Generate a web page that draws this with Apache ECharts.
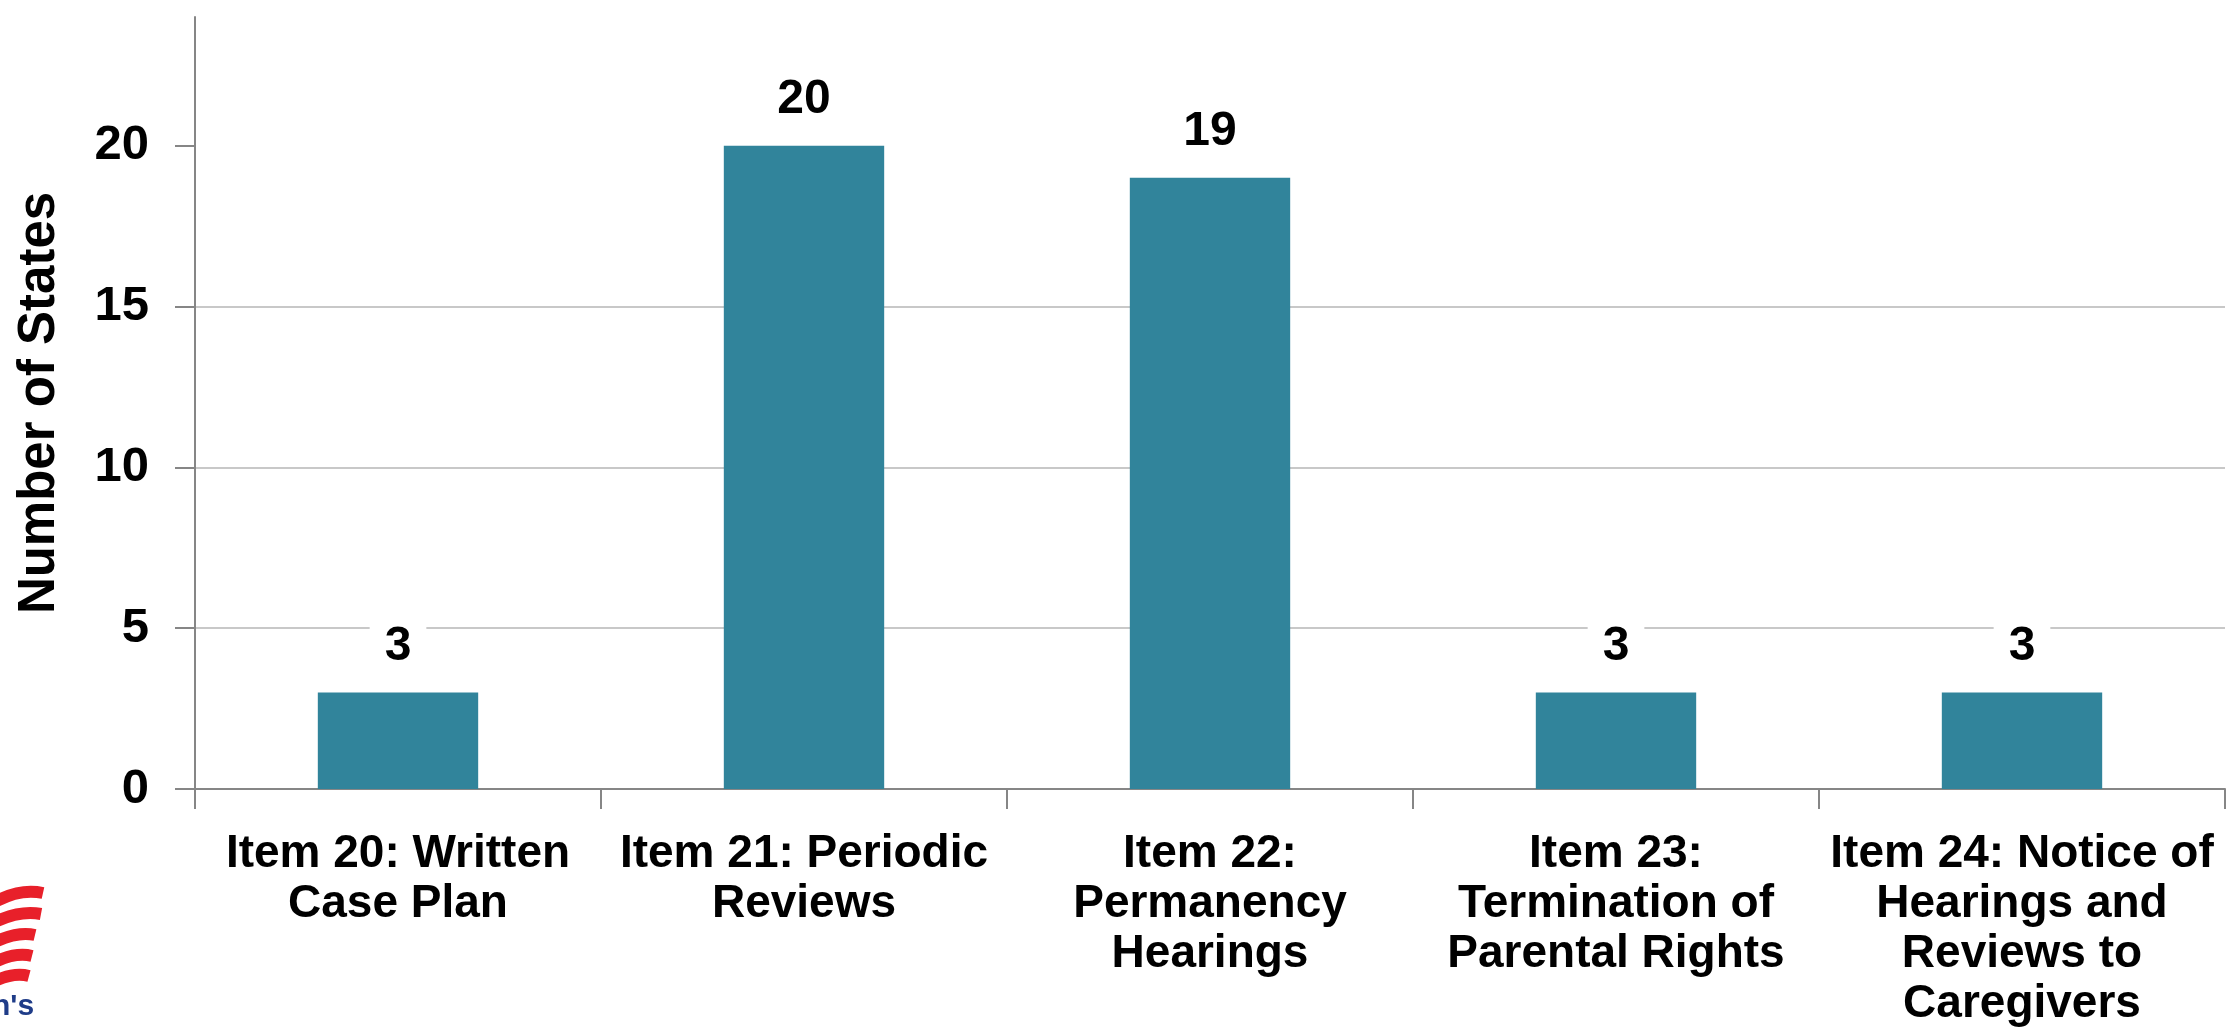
<!DOCTYPE html>
<html>
<head>
<meta charset="utf-8">
<script src="https://cdn.jsdelivr.net/npm/echarts@6/dist/echarts.min.js"></script>
<style>
  html, body { margin: 0; padding: 0; background: #fff; }
  #chart { width: 2229px; height: 1033px; }
</style>
</head>
<body>
<div id="chart"></div>
<script>
// data
const categories = [
  'Item 20: Written\nCase Plan',
  'Item 21: Periodic\nReviews',
  'Item 22:\nPermanency\nHearings',
  'Item 23:\nTermination of\nParental Rights',
  'Item 24: Notice of\nHearings and\nReviews to\nCaregivers'
];
const stateCounts = [3, 20, 19, 3, 3];
const yTicks = [0, 5, 10, 15, 20];
const yName = 'Number of States';

const font = "'Liberation Sans', Arial, sans-serif";
const axisGray = '#868686';

const chart = echarts.init(document.getElementById('chart'));

const option = {
  animation: false,
  textStyle: { fontFamily: font },
  grid: {
    left: 195,
    right: 4,
    top: 17,
    bottom: 244
  },
  xAxis: {
    type: 'category',
    data: categories,
    axisLine: { lineStyle: { color: axisGray, width: 2 } },
    axisTick: { show: true, length: 20, lineStyle: { color: axisGray, width: 2 } },
    axisLabel: {
      interval: 0,
      margin: 40,
      color: '#000',
      fontSize: 46,
      fontWeight: 'bold',
      lineHeight: 50,
      fontFamily: font
    }
  },
  yAxis: {
    type: 'value',
    min: 0,
    max: 24,
    interval: 5,
    name: yName,
    nameLocation: 'middle',
    nameGap: 130,
    nameTextStyle: { color: '#000', fontSize: 51, fontWeight: 'bold', fontFamily: font },
    axisLine: { show: true, lineStyle: { color: axisGray, width: 2 } },
    axisTick: { show: true, length: 20, customValues: yTicks, lineStyle: { color: axisGray, width: 2 } },
    axisLabel: {
      customValues: yTicks,
      margin: 46,
      color: '#000',
      fontSize: 49,
      fontWeight: 'bold',
      fontFamily: font
    },
    splitLine: {
      show: true,
      showMaxLine: false,
      lineStyle: { color: '#c8c8c8', width: 2 }
    }
  },
  series: [
    {
      type: 'bar',
      data: stateCounts,
      barWidth: '39.5%',
      itemStyle: { color: '#31849b' },
      label: {
        show: true,
        position: 'top',
        distance: 20,
        color: '#000',
        fontSize: 48,
        fontWeight: 'bold',
        fontFamily: font,
        backgroundColor: '#fff',
        padding: [2, 15]
      }
    }
  ],
  // partial logo cut off at the bottom-left corner
  graphic: [
    { type: 'bezierCurve', shape: { x1: -5, y1: 902, cpx1: 20, cpy1: 888, x2: 43, y2: 893 }, style: { stroke: '#e8202a', lineWidth: 12, fill: null } },
    { type: 'bezierCurve', shape: { x1: -5, y1: 922, cpx1: 20, cpy1: 910, x2: 41, y2: 914 }, style: { stroke: '#e8202a', lineWidth: 12, fill: null } },
    { type: 'bezierCurve', shape: { x1: -5, y1: 942, cpx1: 18, cpy1: 931, x2: 35, y2: 935 }, style: { stroke: '#e8202a', lineWidth: 12, fill: null } },
    { type: 'bezierCurve', shape: { x1: -5, y1: 962, cpx1: 16, cpy1: 952, x2: 32, y2: 956 }, style: { stroke: '#e8202a', lineWidth: 12, fill: null } },
    { type: 'bezierCurve', shape: { x1: -5, y1: 981, cpx1: 14, cpy1: 972, x2: 29, y2: 976 }, style: { stroke: '#e8202a', lineWidth: 12, fill: null } },
    { type: 'text', left: -8, top: 992, style: { text: "n's", fill: '#1f3c88', font: "bold 30px 'Liberation Sans', Arial" } }
  ]
};

chart.setOption(option);
</script>
</body>
</html>
